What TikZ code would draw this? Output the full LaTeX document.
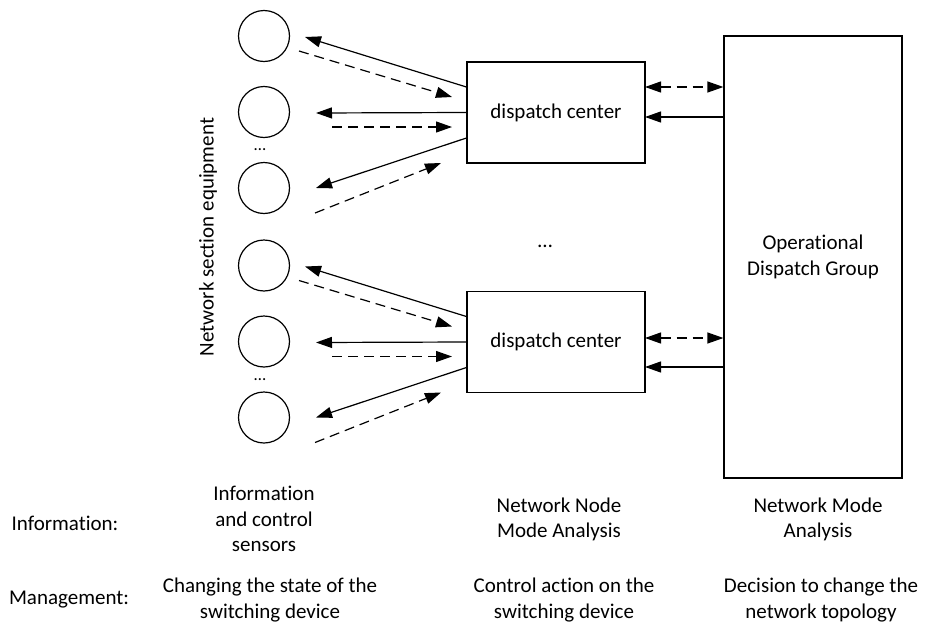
\documentclass[tikz,border=0pt]{standalone}
\usepackage{fontspec}
\setmainfont[Ligatures=NoCommon]{Carlito}
\usetikzlibrary{arrows.meta}
\begin{document}
\begin{tikzpicture}[x=1pt,y=-1pt,
  every node/.style={font=\fontsize{21}{25.5}\selectfont},
  eq/.style={draw, circle, minimum size=51pt, inner sep=0pt, line width=1.2pt},
  dc/.style={draw, rectangle, minimum width=178pt, minimum height=101pt, inner sep=0pt, line width=1.2pt},
  tip/.tip={Triangle[length=16pt,width=11pt]},
  arr/.style={line width=1.2pt, -tip},
  darr/.style={arr, dash pattern=on 10pt off 6pt},
  ddarr/.style={line width=1.2pt, tip-tip, dash pattern=on 10pt off 6pt},
  lbl/.style={align=center, inner sep=0pt},
  smalldots/.style={font=\fontsize{17}{18}\selectfont, inner sep=0pt}]
\useasboundingbox (0,0) rectangle (927,624);

\node[draw, line width=1.2pt, minimum width=178pt, minimum height=442pt, inner sep=0pt, align=center] (odg) at (813,257) {Operational\\Dispatch Group};

\foreach \g/\dy/\ya/\yb in {1/0/87/117, 2/229.5/338/367} {
  \begin{scope}[shift={(0,\dy)}]
    \node[dc] (dc\g) at (556,112.5) {dispatch center};
    \node[eq] (e\g a) at (264,36) {};
    \node[eq] (e\g b) at (264,112) {};
    \node[eq] (e\g c) at (264,188) {};
    \node[smalldots] (v\g) at (260,150) {…};
    % free ends near the equipment
    \coordinate (sa\g) at (305,37);
    \coordinate (sb\g) at (316,113);
    \coordinate (sc\g) at (316,188);
    \coordinate (da\g) at (299,51);
    \coordinate (ta\g) at (452,97);
    \coordinate (db\g) at (332,127);
    \coordinate (tb\g) at (452,127);
    \coordinate (dcc\g) at (315,213);
    \coordinate (tc\g) at (441,163);
  \end{scope}
  \draw[arr] ([yshift=25.5pt]dc\g.west) -- (sa\g);
  \draw[arr] (dc\g.west) -- (sb\g);
  \draw[arr] ([yshift=-25.5pt]dc\g.west) -- (sc\g);
  \draw[darr] (da\g) -- (ta\g);
  \draw[darr] (db\g) -- (tb\g);
  \draw[darr] (dcc\g) -- (tc\g);
  \coordinate (ra\g) at (645,\ya);
  \coordinate (rb\g) at (645,\yb);
  \draw[ddarr] (ra\g) -- (ra\g -| odg.west);
  \draw[arr] (rb\g -| odg.west) -- (rb\g);
}

\node (mid) at (545,246) {…};

\node[rotate=90, inner sep=0pt] (nse) at (208,237) {Network section equipment};

\node[lbl] (inf) at (65,523) {Information:};
\node[lbl] (man) at (69,600) {Management:};
\node[lbl] (i1) at (264,519) {Information\\and control\\sensors};
\node[lbl] (i2) at (559,519.5) {Network Node\\Mode Analysis};
\node[lbl] (i3) at (818,519.5) {Network Mode\\Analysis};
\node[lbl] (m1) at (270,600) {Changing the state of the\\switching device};
\node[lbl] (m2) at (564,600) {Control action on the\\switching device};
\node[lbl] (m3) at (821,600) {Decision to change the\\network topology};
\end{tikzpicture}
\end{document}
